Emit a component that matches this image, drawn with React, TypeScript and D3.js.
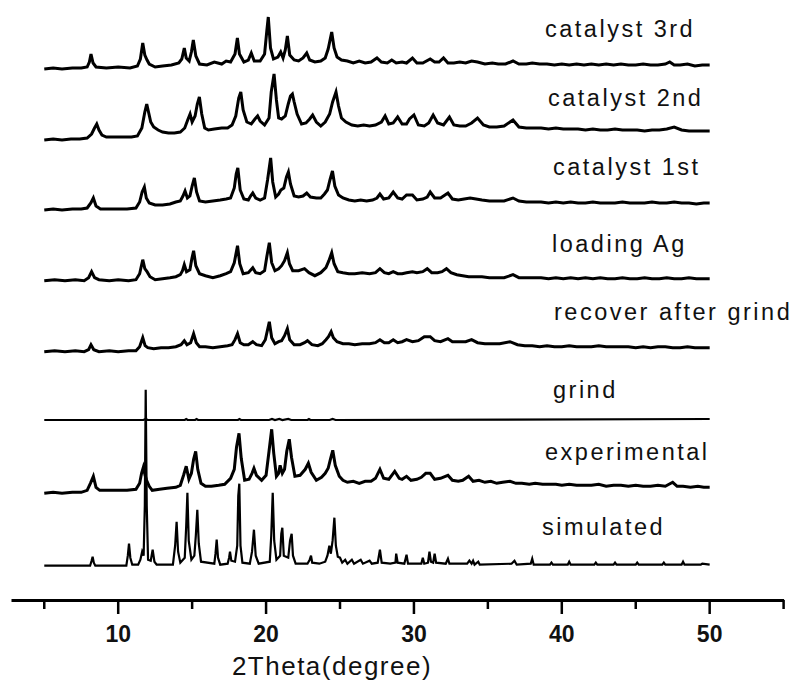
import React, { useEffect, useRef } from 'react'
import * as d3 from 'd3'

// pattern names, top to bottom
const seriesNames = ['catalyst 3rd', 'catalyst 2nd', 'catalyst 1st', 'loading Ag', 'recover after grind', 'grind', 'experimental', 'simulated']
// stacking offset of each pattern (intensity units)
const offsets = [531, 460, 390, 319.3, 248.3, 180, 106.7, 34.3]

const minorTicks = [5, 15, 25, 35, 45, 55]
const majorTicks = [10, 20, 30, 40, 50]

// [2theta, intensity]
const catalyst3rd: [number, number][] = [
  [5, 0], [5.6, 1], [6.2, 0], [6.9, 1], [7.5, 1], [7.9, 2], [8.05, 7], [8.16, 15], [8.3, 6], [8.5, 2], [9.2, 1], [10, 2], [10.8, 1], [11.3, 3], [11.5, 10], [11.66, 26], [11.8, 14], [11.95, 9], [12.1, 5], [12.5, 2], [13, 3], [13.6, 4], [14.1, 6], [14.3, 10], [14.47, 21], [14.6, 11], [14.8, 8], [14.95, 17], [15.08, 29], [15.25, 13], [15.5, 5], [16, 4], [16.5, 7], [17, 5], [17.3, 8], [17.6, 7], [17.9, 15], [18.06, 31], [18.2, 15], [18.5, 7], [18.8, 9], [19.0, 16], [19.2, 8], [19.6, 8], [19.9, 15], [20.05, 38], [20.15, 52], [20.3, 21], [20.5, 10], [20.8, 12], [20.99, 17], [21.15, 11], [21.3, 19], [21.44, 33], [21.6, 14], [21.9, 9], [22.2, 8], [22.5, 11], [22.75, 16], [22.95, 9], [23.3, 7], [23.7, 8], [24.0, 11], [24.2, 20], [24.44, 37], [24.6, 21], [24.8, 12], [25.1, 9], [25.5, 8], [25.9, 6], [26.3, 8], [26.7, 6], [27.1, 7], [27.5, 11], [27.8, 7], [28.2, 6], [28.5, 9], [28.8, 6], [29.2, 7], [29.5, 6], [29.9, 11], [30.2, 6], [30.6, 6], [31.1, 10], [31.4, 7], [31.7, 7], [32.0, 11], [32.3, 6], [32.7, 6], [33.1, 7], [33.5, 6], [33.9, 8], [34.3, 7], [34.8, 5], [35.3, 6], [35.7, 5], [36.2, 5], [36.7, 8], [37.1, 5], [37.6, 5], [38.0, 6], [38.5, 5], [39, 5], [39.5, 4], [40, 5], [40.5, 4], [41, 5], [41.5, 4], [42, 5], [42.5, 4], [43, 5], [43.5, 4], [44, 5], [44.5, 4], [45, 4], [45.5, 5], [46, 4], [46.5, 4], [47, 5], [47.3, 7], [47.6, 4], [48, 4], [48.5, 5], [49, 3], [49.5, 4], [50, 4]
]

const catalyst2nd: [number, number][] = [
  [5, 0], [5.6, 1], [6.2, 0], [6.8, 1], [7.4, 1], [7.9, 2], [8.2, 6], [8.4, 12], [8.55, 16], [8.7, 10], [8.9, 5], [9.2, 3], [9.7, 3], [10.3, 3], [10.9, 3], [11.3, 4], [11.6, 12], [11.8, 28], [11.93, 36], [12.05, 28], [12.2, 18], [12.4, 13], [12.7, 10], [13.0, 8], [13.4, 7], [13.8, 7], [14.2, 8], [14.5, 12], [14.7, 20], [14.86, 26], [15.0, 18], [15.2, 24], [15.35, 36], [15.49, 43], [15.65, 26], [15.85, 12], [16.1, 10], [16.5, 11], [17.0, 12], [17.4, 12], [17.7, 15], [17.95, 24], [18.15, 42], [18.29, 48], [18.45, 30], [18.7, 18], [19.0, 16], [19.25, 21], [19.43, 24], [19.6, 19], [19.9, 15], [20.2, 22], [20.35, 48], [20.54, 66], [20.7, 40], [20.85, 22], [21.05, 21], [21.3, 24], [21.5, 36], [21.65, 44], [21.78, 46], [21.9, 38], [22.1, 26], [22.4, 16], [22.7, 17], [22.95, 21], [23.15, 25], [23.4, 18], [23.7, 14], [24.0, 18], [24.3, 26], [24.5, 38], [24.73, 48], [24.9, 34], [25.1, 22], [25.4, 18], [25.8, 15], [26.2, 14], [26.6, 15], [27.0, 14], [27.4, 15], [27.8, 18], [28.05, 24], [28.3, 16], [28.6, 17], [28.9, 23], [29.2, 16], [29.5, 16], [29.7, 21], [30.0, 25], [30.3, 15], [30.7, 14], [31.0, 17], [31.3, 25], [31.6, 17], [32.0, 15], [32.4, 23], [32.7, 15], [33.1, 14], [33.5, 14], [33.9, 17], [34.3, 22], [34.7, 15], [35.1, 13], [35.6, 13], [36.1, 14], [36.7, 20], [37.1, 13], [37.6, 12], [38.1, 12], [38.6, 12], [39.1, 11], [39.6, 12], [40.1, 11], [40.6, 11], [41.1, 11], [41.6, 10], [42.1, 11], [42.6, 10], [43.1, 10], [43.6, 11], [44.1, 10], [44.6, 10], [45.1, 10], [45.6, 9], [46.1, 10], [46.6, 10], [47.1, 11], [47.6, 13], [48.1, 10], [48.6, 9], [49.1, 9], [49.6, 9], [50, 9]
]

const catalyst1st: [number, number][] = [
  [5, 0], [5.6, 1], [6.2, 0], [6.9, 1], [7.5, 1], [7.9, 2], [8.15, 7], [8.32, 12], [8.5, 4], [8.8, 1], [9.4, 1], [10, 1], [10.6, 1], [11.2, 2], [11.45, 8], [11.62, 18], [11.77, 23], [11.9, 12], [12.1, 7], [12.5, 5], [13.0, 5], [13.5, 6], [13.9, 8], [14.2, 9], [14.38, 14], [14.52, 19], [14.68, 12], [14.85, 14], [15.0, 24], [15.15, 32], [15.3, 18], [15.5, 9], [15.9, 8], [16.4, 9], [16.9, 10], [17.3, 11], [17.6, 12], [17.85, 22], [17.98, 36], [18.09, 42], [18.25, 20], [18.5, 11], [18.8, 10], [18.95, 14], [19.1, 17], [19.3, 12], [19.6, 10], [19.9, 12], [20.1, 30], [20.31, 52], [20.45, 28], [20.65, 13], [20.85, 16], [21.0, 20], [21.2, 22], [21.38, 33], [21.51, 38], [21.65, 26], [21.9, 14], [22.2, 13], [22.5, 14], [22.75, 17], [23.0, 13], [23.4, 12], [23.7, 12], [23.95, 16], [24.15, 20], [24.32, 30], [24.49, 39], [24.65, 24], [24.9, 15], [25.2, 12], [25.6, 10], [26.0, 9], [26.4, 10], [26.8, 9], [27.2, 10], [27.5, 12], [27.7, 16], [27.95, 11], [28.3, 12], [28.6, 18], [28.9, 12], [29.2, 11], [29.5, 15], [29.9, 15], [30.2, 10], [30.6, 11], [30.9, 13], [31.1, 18], [31.4, 12], [31.8, 12], [32.3, 17], [32.6, 11], [33.0, 10], [33.4, 11], [33.8, 12], [34.2, 11], [34.6, 10], [35.1, 9], [35.6, 9], [36.1, 9], [36.7, 12], [37.1, 9], [37.6, 8], [38.1, 8], [38.6, 8], [39.1, 7], [39.6, 8], [40.1, 7], [40.6, 8], [41.1, 7], [41.6, 7], [42.1, 8], [42.6, 7], [43.1, 7], [43.6, 7], [44.1, 8], [44.6, 7], [45.1, 7], [45.6, 7], [46.1, 8], [46.6, 7], [47.1, 7], [47.6, 8], [48.1, 7], [48.6, 7], [49.1, 6], [49.6, 7], [50, 7]
]

const loadingAg: [number, number][] = [
  [5, 0], [5.7, 1], [6.4, 0], [7.1, 1], [7.7, 0], [8.0, 3], [8.2, 9], [8.4, 3], [8.7, 1], [9.4, 0], [10, 1], [10.7, 0], [11.2, 1], [11.45, 7], [11.66, 21], [11.8, 12], [11.95, 9], [12.15, 4], [12.5, 1], [13.0, 2], [13.5, 3], [13.9, 4], [14.2, 6], [14.35, 10], [14.47, 16], [14.62, 9], [14.85, 11], [14.98, 22], [15.1, 30], [15.25, 15], [15.5, 7], [15.9, 5], [16.4, 3], [16.9, 5], [17.3, 7], [17.6, 9], [17.85, 18], [18.07, 35], [18.22, 17], [18.45, 7], [18.8, 8], [19.1, 13], [19.3, 8], [19.6, 7], [19.9, 10], [20.05, 24], [20.22, 38], [20.38, 18], [20.6, 10], [20.85, 12], [21.05, 15], [21.25, 20], [21.44, 28], [21.58, 17], [21.8, 10], [22.2, 10], [22.6, 12], [22.9, 8], [23.3, 5], [23.7, 8], [24.05, 13], [24.25, 20], [24.44, 28], [24.6, 17], [24.85, 9], [25.2, 8], [25.6, 7], [26.0, 7], [26.5, 8], [27.0, 7], [27.4, 8], [27.7, 12], [28.0, 8], [28.3, 7], [28.6, 9], [28.9, 7], [29.2, 7], [29.5, 8], [29.9, 9], [30.2, 8], [30.6, 9], [30.9, 12], [31.2, 8], [31.6, 8], [31.9, 9], [32.2, 12], [32.5, 8], [32.9, 6], [33.3, 5], [33.7, 4], [34.1, 4], [34.6, 4], [35.1, 3], [35.6, 3], [36.1, 3], [36.7, 6], [37.1, 3], [37.6, 3], [38.1, 3], [38.6, 3], [39.1, 2], [39.6, 3], [40.1, 2], [40.6, 3], [41.1, 2], [41.6, 3], [42.1, 2], [42.6, 3], [43.1, 2], [43.6, 2], [44.1, 3], [44.6, 2], [45.1, 2], [45.6, 3], [46.1, 2], [46.6, 2], [47.1, 3], [47.6, 2], [48.1, 2], [48.6, 3], [49.1, 2], [49.6, 2], [50, 2]
]

const recoverAfterGrind: [number, number][] = [
  [5, 0], [5.7, 1], [6.4, 0], [7.1, 1], [7.7, 0], [8.0, 2], [8.16, 7], [8.35, 2], [8.7, 0], [9.4, 1], [10, 0], [10.7, 1], [11.2, 1], [11.45, 5], [11.66, 14], [11.82, 6], [12.0, 4], [12.4, 3], [12.9, 4], [13.4, 4], [13.9, 5], [14.25, 7], [14.47, 11], [14.65, 7], [14.9, 9], [15.1, 18], [15.28, 9], [15.5, 5], [15.9, 5], [16.4, 4], [16.9, 5], [17.4, 6], [17.7, 7], [17.9, 12], [18.07, 18], [18.25, 9], [18.5, 7], [18.8, 7], [19.1, 10], [19.35, 7], [19.7, 6], [19.95, 12], [20.1, 22], [20.22, 30], [20.38, 14], [20.6, 8], [20.85, 10], [21.05, 11], [21.25, 16], [21.44, 23], [21.6, 12], [21.9, 7], [22.3, 7], [22.6, 9], [22.8, 11], [23.1, 7], [23.5, 6], [23.8, 8], [24.05, 12], [24.22, 15], [24.4, 20], [24.55, 14], [24.8, 10], [25.2, 8], [25.6, 8], [26.0, 7], [26.5, 8], [27.0, 8], [27.4, 9], [27.7, 12], [28.0, 9], [28.3, 9], [28.6, 12], [28.9, 9], [29.2, 10], [29.5, 12], [29.9, 10], [30.3, 11], [30.7, 15], [31.1, 15], [31.4, 11], [31.8, 10], [32.3, 13], [32.6, 10], [33.0, 10], [33.5, 10], [33.9, 12], [34.3, 9], [34.8, 8], [35.3, 8], [35.8, 8], [36.5, 10], [37.0, 7], [37.5, 6], [38.0, 6], [38.5, 5], [39.0, 6], [39.5, 5], [40.0, 5], [40.5, 6], [41.0, 5], [41.5, 5], [42.0, 5], [42.5, 6], [43.0, 5], [43.5, 5], [44.0, 5], [44.5, 5], [45.0, 4], [45.5, 5], [46.0, 4], [46.5, 5], [47.0, 5], [47.5, 4], [48.0, 4], [48.5, 5], [49.0, 4], [49.5, 4], [50, 4]
]

const grind: [number, number][] = [
  [5, 0], [11.7, 0], [11.86, 1], [12.0, 0], [14.5, 0], [14.6, 1], [14.7, 0], [15.2, 0], [15.3, 1], [15.4, 0], [18.1, 0], [18.2, 1], [18.3, 0], [20.2, 0], [20.4, 1], [20.6, 0], [20.9, 1], [21.1, 0], [21.5, 1], [21.7, 0], [22.8, 0], [22.9, 1], [23.0, 0], [24.3, 0], [24.5, 1], [24.7, 0], [50, 1]
]

const experimental: [number, number][] = [
  [5, 0], [5.6, 1], [6.2, 0], [6.9, 1], [7.5, 1], [7.9, 3], [8.12, 10], [8.32, 17], [8.5, 6], [8.75, 3], [9.3, 3], [10, 3], [10.6, 3], [11.2, 4], [11.45, 10], [11.58, 20], [11.7, 26], [11.82, 18], [11.92, 13], [12.1, 7], [12.3, 3], [12.8, 4], [13.3, 5], [13.9, 6], [14.2, 8], [14.42, 18], [14.6, 27], [14.78, 14], [14.95, 20], [15.1, 34], [15.24, 42], [15.38, 24], [15.6, 10], [15.9, 7], [16.3, 7], [16.8, 8], [17.2, 9], [17.6, 15], [17.85, 24], [18.0, 46], [18.17, 60], [18.32, 35], [18.55, 13], [18.85, 14], [19.05, 20], [19.18, 25], [19.35, 18], [19.7, 13], [20.0, 18], [20.2, 42], [20.38, 64], [20.52, 40], [20.7, 17], [20.85, 20], [20.95, 28], [21.1, 20], [21.25, 24], [21.4, 42], [21.57, 54], [21.72, 36], [21.95, 17], [22.3, 18], [22.65, 24], [22.86, 30], [23.05, 21], [23.4, 13], [23.75, 16], [24.0, 20], [24.2, 25], [24.35, 34], [24.51, 43], [24.68, 28], [24.95, 17], [25.2, 13], [25.5, 11], [25.9, 12], [26.3, 10], [26.7, 12], [27.1, 12], [27.4, 15], [27.7, 24], [27.95, 15], [28.3, 14], [28.7, 22], [29.0, 15], [29.2, 14], [29.5, 17], [29.8, 13], [30.2, 14], [30.5, 16], [30.8, 20], [31.1, 20], [31.4, 14], [31.8, 15], [32.3, 18], [32.6, 13], [33.0, 12], [33.3, 13], [33.7, 17], [34.0, 12], [34.4, 13], [34.8, 11], [35.2, 12], [35.6, 10], [36.0, 11], [36.5, 12], [36.9, 10], [37.3, 10], [37.8, 9], [38.2, 10], [38.7, 9], [39.1, 9], [39.6, 9], [40.0, 8], [40.5, 9], [41.0, 8], [41.5, 8], [42.0, 8], [42.5, 9], [43.0, 7], [43.5, 8], [44.0, 8], [44.5, 7], [45.0, 8], [45.5, 7], [46.0, 7], [46.5, 8], [47.0, 7], [47.5, 11], [47.8, 7], [48.2, 7], [48.7, 6], [49.2, 7], [49.6, 6], [50, 6]
]

const simulated: [number, number][] = [
  [5, 0], [8.1, 0], [8.2, 5], [8.27, 9], [8.35, 3], [8.45, 0], [10.55, 0], [10.65, 10], [10.73, 22], [10.82, 8], [10.95, 1], [11.35, 1], [11.5, 6], [11.62, 14], [11.72, 10], [11.8, 60], [11.86, 176], [11.93, 60], [12.02, 6], [12.2, 5], [12.33, 16], [12.45, 4], [12.6, 1], [13.7, 1], [13.85, 20], [13.95, 44], [14.05, 14], [14.2, 3], [14.5, 8], [14.6, 40], [14.68, 73], [14.77, 25], [14.95, 6], [15.15, 10], [15.25, 30], [15.35, 56], [15.45, 22], [15.6, 4], [16.5, 2], [16.58, 12], [16.66, 26], [16.75, 8], [16.9, 1], [17.4, 2], [17.5, 8], [17.56, 14], [17.65, 5], [17.9, 4], [18.05, 20], [18.12, 70], [18.19, 82], [18.27, 20], [18.4, 3], [18.9, 2], [19.05, 14], [19.18, 36], [19.3, 10], [19.5, 2], [20.25, 4], [20.35, 30], [20.45, 73], [20.55, 25], [20.7, 6], [20.95, 10], [21.03, 32], [21.1, 38], [21.2, 10], [21.5, 8], [21.62, 25], [21.73, 32], [21.82, 10], [22.0, 2], [22.8, 2], [22.95, 6], [23.04, 10], [23.12, 3], [23.6, 2], [24.0, 4], [24.15, 10], [24.28, 20], [24.38, 12], [24.5, 25], [24.62, 48], [24.72, 20], [24.85, 9], [25.0, 8], [25.15, 3], [25.35, 6], [25.5, 2], [25.8, 6], [25.95, 2], [26.4, 6], [26.55, 2], [27.0, 5], [27.15, 2], [27.55, 3], [27.7, 16], [27.82, 3], [28.4, 2], [28.75, 3], [28.8, 12], [28.9, 3], [29.35, 2], [29.5, 11], [29.6, 2], [30.5, 2], [30.6, 8], [30.7, 2], [30.95, 3], [31.05, 14], [31.15, 4], [31.3, 3], [31.4, 12], [31.5, 3], [32.15, 2], [32.3, 7], [32.4, 2], [33.6, 2], [33.75, 5], [33.9, 2], [34.0, 5], [34.1, 1], [34.35, 4], [34.45, 1], [36.6, 2], [36.8, 5], [36.95, 1], [37.9, 2], [38.0, 7], [38.1, 1], [39.2, 1], [39.3, 3], [39.4, 1], [40.4, 1], [40.5, 4], [40.6, 1], [42.2, 1], [42.3, 3], [42.4, 1], [43.5, 1], [43.6, 3], [43.7, 1], [45.0, 1], [45.1, 3], [45.2, 1], [46.8, 1], [46.9, 3], [47.0, 1], [48.1, 1], [48.2, 4], [48.3, 1], [49.4, 1], [49.5, 2], [50, 1]
]

const patterns = [catalyst3rd, catalyst2nd, catalyst1st, loadingAg, recoverAfterGrind, grind, experimental, simulated]

// label placement (left x, baseline y)
const labelX = [545, 548, 553, 552, 554, 553, 545, 542]
const labelY = [37, 106, 175, 252, 320, 398, 460, 535]
const strokeW = [3, 3, 3, 3, 3, 2.2, 3, 2.2]

const FONT = 'Liberation Sans, Arial, sans-serif'

export default function App() {
  const ref = useRef<SVGSVGElement>(null)

  useEffect(() => {
    const svg = d3.select(ref.current)
    svg.selectAll('*').remove()

    const x = d3.scaleLinear().domain([2.75, 55]).range([11, 783.6])
    const y = d3.scaleLinear().domain([0, 600]).range([600, 0])

    patterns.forEach((data, i) => {
      const line = d3.line<[number, number]>()
        .x(d => x(d[0]))
        .y(d => y(offsets[i] + d[1]))
      svg.append('path')
        .datum(data)
        .attr('d', line)
        .attr('fill', 'none')
        .attr('stroke', '#000')
        .attr('stroke-width', strokeW[i])
        .attr('stroke-linejoin', 'miter')
    })

    svg.selectAll('text.label')
      .data(seriesNames)
      .enter()
      .append('text')
      .attr('class', 'label')
      .attr('x', (d, i) => labelX[i])
      .attr('y', (d, i) => labelY[i])
      .attr('font-family', FONT)
      .attr('font-size', 23.5)
      .attr('letter-spacing', 2.5)
      .attr('fill', '#111')
      .text(d => d)

    // x axis
    const axis = svg.append('g')
      .attr('transform', `translate(0, ${y(0)})`)
      .call(d3.axisBottom(x).tickValues([]).tickSizeOuter(0))
    axis.select('.domain').attr('stroke-width', 3).attr('stroke', '#000')

    svg.append('g')
      .selectAll('line')
      .data([...minorTicks, ...majorTicks])
      .enter()
      .append('line')
      .attr('x1', d => x(d))
      .attr('x2', d => x(d))
      .attr('y1', y(0))
      .attr('y2', d => y(0) + (majorTicks.includes(d) ? 14 : 9))
      .attr('stroke', '#000')
      .attr('stroke-width', 2.5)

    svg.append('g')
      .selectAll('text')
      .data(majorTicks)
      .enter()
      .append('text')
      .attr('x', d => x(d))
      .attr('y', 642)
      .attr('text-anchor', 'middle')
      .attr('font-family', FONT)
      .attr('font-weight', 'bold')
      .attr('font-size', 23)
      .attr('fill', '#111')
      .text(d => d)

    svg.append('text')
      .attr('x', 332)
      .attr('y', 675)
      .attr('text-anchor', 'middle')
      .attr('font-family', FONT)
      .attr('font-size', 26)
      .attr('letter-spacing', 1.5)
      .attr('fill', '#111')
      .text('2Theta(degree)')
  }, [])

  return (
    <div style={{ position: 'absolute', left: 0, top: 0 }}>
      <svg ref={ref} width={798} height={684} style={{ display: 'block', background: '#fff' }} />
    </div>
  )
}
